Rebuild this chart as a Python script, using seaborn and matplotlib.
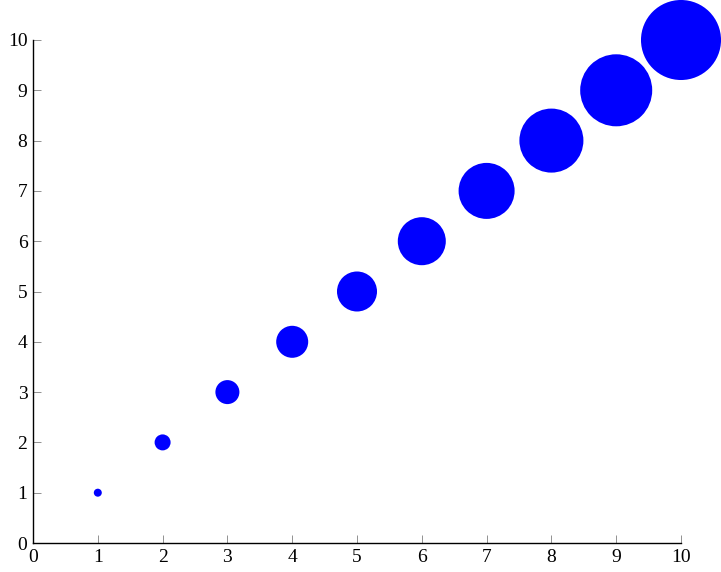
import matplotlib
matplotlib.use("Agg")
import matplotlib.pyplot as plt
import seaborn as sns
import pandas as pd

x_vals = [1, 2, 3, 4, 5, 6, 7, 8, 9, 10]
y_vals = [1, 2, 3, 4, 5, 6, 7, 8, 9, 10]
size_vals = [1, 2, 3, 4, 5, 6, 7, 8, 9, 10]
ticks = [0, 1, 2, 3, 4, 5, 6, 7, 8, 9, 10]

sns.set_style("ticks")
plt.rcParams['font.family'] = ['Liberation Serif', 'DejaVu Serif']

df = pd.DataFrame({"x": x_vals, "y": y_vals, "s": size_vals})

fig = plt.figure(figsize=(7.21, 5.72), dpi=100)
ax = fig.add_axes([33/721, 1-543/572, (681-33)/721, (543-40)/572])

sizes = {v: 33.2 * v * v for v in size_vals}
sns.scatterplot(data=df, x="x", y="y", size="s", sizes=sizes, color="#0000ff",
                edgecolor="none", linewidth=0, legend=False, ax=ax, clip_on=False, zorder=3)

ax.set_xlim(0, 10)
ax.set_ylim(0, 10)
ax.set_xticks(ticks)
ax.set_yticks(ticks)
ax.set_xlabel("")
ax.set_ylabel("")
for s in ["top", "right"]:
    ax.spines[s].set_visible(False)
for s in ["left", "bottom"]:
    ax.spines[s].set_color("black")
    ax.spines[s].set_linewidth(1.0)
ax.tick_params(direction="in", length=6, width=0.6, color="#808080",
               labelsize=14, labelcolor="black", pad=4)

fig.savefig("out.png", dpi=100)
